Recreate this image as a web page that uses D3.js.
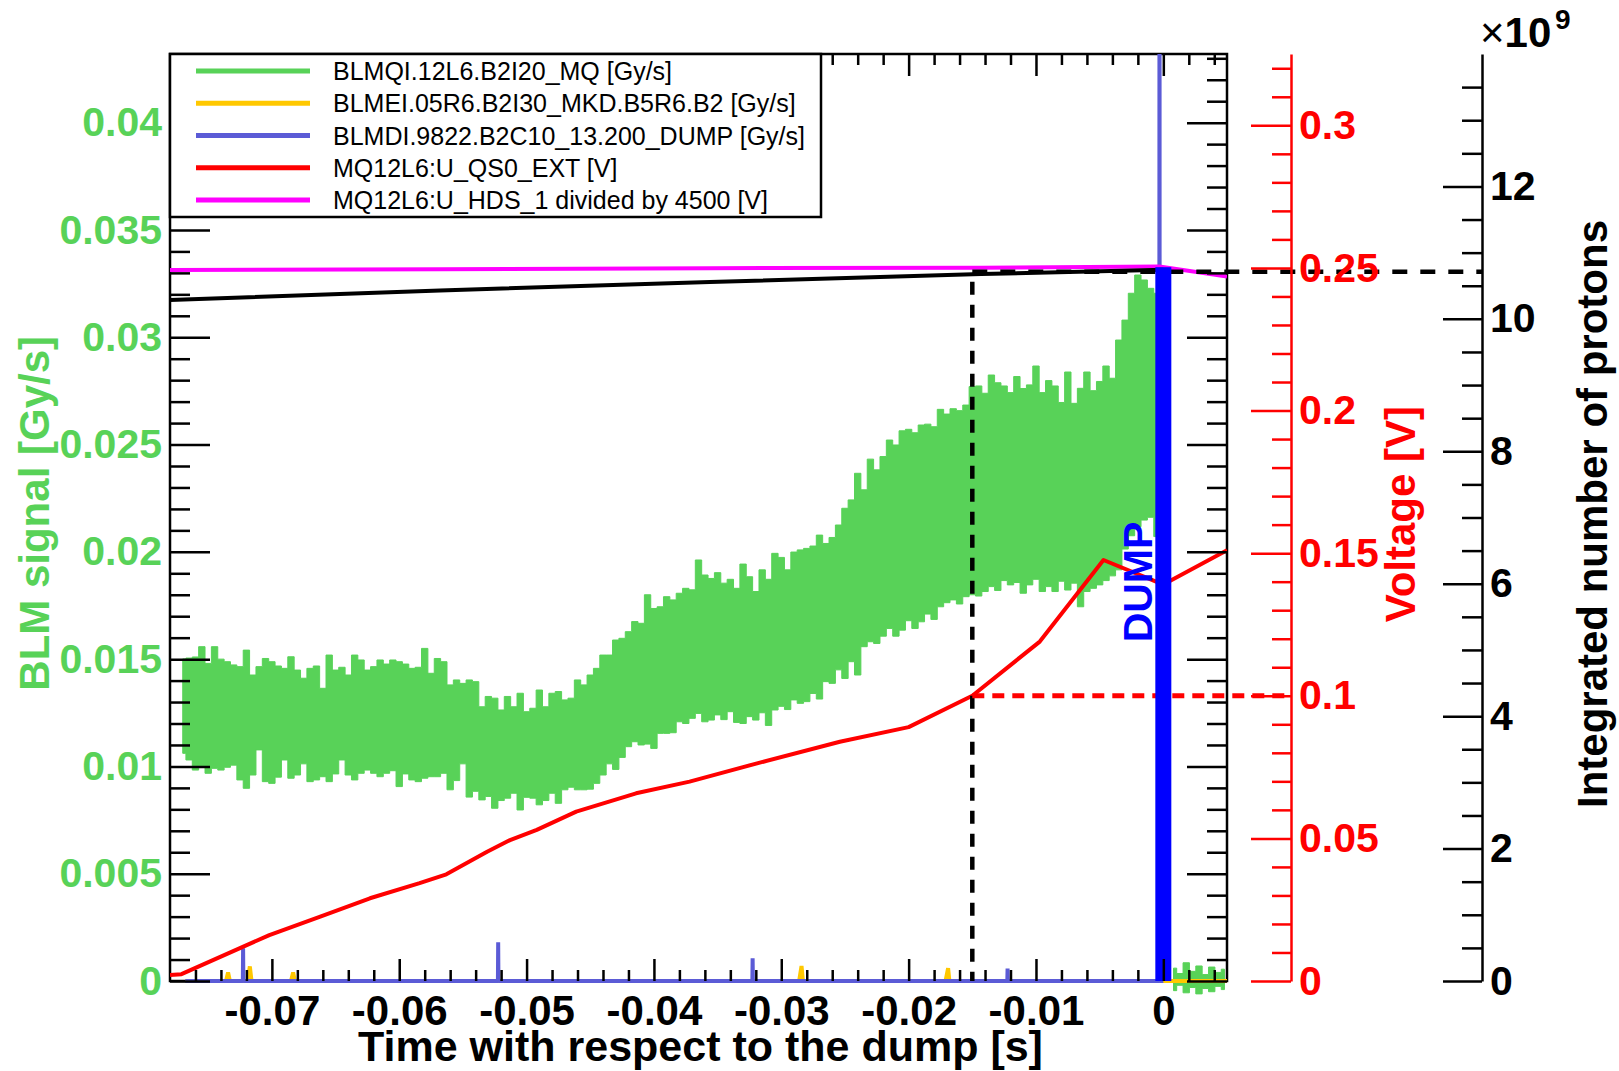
<!DOCTYPE html>
<html>
<head>
<meta charset="utf-8">
<script src="https://cdn.jsdelivr.net/npm/d3@7"></script>
<style>
  html, body { margin: 0; padding: 0; background: #ffffff; }
  svg { display: block; }
</style>
</head>
<body>
<svg id="chart" width="1619" height="1071"></svg>
<script>
// ---------------------------------------------------------------------------
// Data
// ---------------------------------------------------------------------------

// BLMQI.12L6.B2I20_MQ [Gy/s]: min / max envelope of the loss signal,
// sampled every 0.5 ms from t = -77 ms up to the dump.
const blmMqStart = -0.0770;
const blmMqStep = 0.0005;
const blmMqUpper = [
  0.01501, 0.01505, 0.01510, 0.01558, 0.01480, 0.01558, 0.01500, 0.01488, 0.01473, 0.01465,
  0.01542, 0.01426, 0.01465, 0.01503, 0.01488, 0.01468, 0.01457, 0.01511, 0.01449, 0.01411,
  0.01457, 0.01468, 0.01364, 0.01519, 0.01449, 0.01462, 0.01426, 0.01519, 0.01496, 0.01449,
  0.01465, 0.01496, 0.01477, 0.01496, 0.01488, 0.01477, 0.01457, 0.01462, 0.01550, 0.01434,
  0.01503, 0.01488, 0.01380, 0.01403, 0.01387, 0.01403, 0.01395, 0.01278, 0.01326, 0.01318,
  0.01263, 0.01326, 0.01278, 0.01341, 0.01255, 0.01271, 0.01356, 0.01278, 0.01341, 0.01349,
  0.01310, 0.01318, 0.01403, 0.01380, 0.01426, 0.01457, 0.01519, 0.01519, 0.01589, 0.01597,
  0.01628, 0.01675, 0.01667, 0.01800, 0.01736, 0.01744, 0.01791, 0.01776, 0.01807, 0.01830,
  0.01823, 0.01962, 0.01892, 0.01876, 0.01903, 0.01854, 0.01872, 0.01830, 0.01943, 0.01884,
  0.01815, 0.01916, 0.01872, 0.01993, 0.01974, 0.01916, 0.01999, 0.02009, 0.02016, 0.02027,
  0.02078, 0.02039, 0.02067, 0.02125, 0.02203, 0.02242, 0.02366, 0.02289, 0.02432, 0.02382,
  0.02444, 0.02521, 0.02498, 0.02564, 0.02571, 0.02555, 0.02591, 0.02595, 0.02583, 0.02664,
  0.02642, 0.02667, 0.02658, 0.02684, 0.02770, 0.02773, 0.02739, 0.02824, 0.02788, 0.02773,
  0.02742, 0.02817, 0.02761, 0.02778, 0.02866, 0.02742, 0.02798, 0.02773, 0.02696, 0.02838,
  0.02692, 0.02762, 0.02838, 0.02751, 0.02794, 0.02866, 0.02809, 0.02987, 0.03080, 0.03205,
  0.03290, 0.03267, 0.03228, 0.03205
];
const blmMqLower = [
  0.01061, 0.01030, 0.00983, 0.00999, 0.00968, 0.00991, 0.00983, 0.00996, 0.01006, 0.00937,
  0.00898, 0.00960, 0.01077, 0.00929, 0.00921, 0.00950, 0.01030, 0.00945, 0.00960, 0.01012,
  0.00929, 0.00937, 0.00952, 0.00929, 0.00965, 0.01030, 0.00960, 0.00937, 0.00968, 0.00983,
  0.00968, 0.00952, 0.00968, 0.00980, 0.00906, 0.00965, 0.00937, 0.00929, 0.00945, 0.00952,
  0.00952, 0.00968, 0.00891, 0.00934, 0.01012, 0.00857, 0.00884, 0.00844, 0.00860, 0.00805,
  0.00841, 0.00852, 0.00875, 0.00797, 0.00856, 0.00852, 0.00821, 0.00841, 0.00875, 0.00828,
  0.00891, 0.00903, 0.00891, 0.00891, 0.00894, 0.00921, 0.00960, 0.01012, 0.00986, 0.01042,
  0.01092, 0.01115, 0.01100, 0.01104, 0.01084, 0.01154, 0.01154, 0.01157, 0.01208, 0.01200,
  0.01224, 0.01247, 0.01208, 0.01216, 0.01240, 0.01218, 0.01255, 0.01205, 0.01200, 0.01232,
  0.01216, 0.01250, 0.01191, 0.01263, 0.01280, 0.01265, 0.01310, 0.01294, 0.01302, 0.01340,
  0.01314, 0.01395, 0.01387, 0.01450, 0.01410, 0.01488, 0.01426, 0.01558, 0.01581, 0.01573,
  0.01607, 0.01643, 0.01607, 0.01635, 0.01679, 0.01643, 0.01674, 0.01710, 0.01685, 0.01744,
  0.01763, 0.01776, 0.01757, 0.01791, 0.01800, 0.01794, 0.01815, 0.01838, 0.01820, 0.01866,
  0.01846, 0.01857, 0.01807, 0.01846, 0.01872, 0.01815, 0.01838, 0.01815, 0.01863, 0.01822,
  0.01854, 0.01744, 0.01815, 0.01830, 0.01846, 0.01866, 0.01888, 0.01916, 0.02013, 0.02075,
  0.02117, 0.02148, 0.02161, 0.02071
];

// Same monitor after the dump: noise around zero.
const blmMqPostStart = 0.0008;
const blmMqPostUpper = [0.00060, 0.00035, 0.00085, 0.00045, 0.00070, 0.00030, 0.00065, 0.00040, 0.00055];
const blmMqPostLower = [-0.00045, -0.00020, -0.00055, -0.00030, -0.00060, -0.00035, -0.00050, -0.00025, -0.00040];

// BLMEI.05R6.B2I30_MKD.B5R6.B2 [Gy/s]
const blmMkdTime  = [-0.0768, -0.0736, -0.07344, -0.0733, -0.0719, -0.07173, -0.0716, -0.0685, -0.06833, -0.0682,
                     -0.0286, -0.02841, -0.0283, -0.0171, -0.0169, -0.0168, 0.0050];
const blmMkdValue = [0, 0, 0.00040, 0, 0, 0.00068, 0, 0, 0.00040, 0,
                     0, 0.00070, 0, 0, 0.00060, 0, 0];

// BLMDI.9822.B2C10_13.200_DUMP [Gy/s]
const blmDumpTime  = [-0.0768, -0.07228, -0.07226, -0.07224, -0.05225, -0.05223, -0.05221,
                      -0.03227, -0.03225, -0.03223, -0.01225, -0.01223, -0.01221,
                      -0.00032, -0.00030, -0.00028, 0.0];
const blmDumpValue = [0, 0, 0.00152, 0, 0, 0.00180, 0,
                      0, 0.00106, 0, 0, 0.00058, 0,
                      0, 0.06, 0, 0];

// MQ12L6:U_QS0_EXT [V]
const qs0Time  = [-0.0780, -0.0771, -0.0702, -0.0662, -0.0623, -0.0584, -0.0563, -0.0531, -0.0513, -0.0492,
                  -0.0461, -0.0414, -0.0372, -0.0319, -0.0254, -0.0200, -0.0150, -0.0097, -0.0047, 0.0000, 0.0050];
const qs0Volt  = [0.0021, 0.0024, 0.0161, 0.0226, 0.0290, 0.0343, 0.0374, 0.0453, 0.0494, 0.0530,
                  0.0594, 0.0658, 0.0699, 0.0763, 0.0839, 0.0890, 0.1000, 0.1190, 0.1476, 0.1390, 0.1510];

// MQ12L6:U_HDS_1 divided by 4500 [V]
const hdsTime = [-0.0780, -0.0568, -0.0356, -0.0143, -0.0003, 0.0050];
const hdsVolt = [0.2493, 0.2495, 0.2499, 0.2501, 0.2505, 0.2470];

// Integrated number of protons [x 1e9]
const protonTime  = [-0.0780, -0.0568, -0.0356, -0.0143, 0.0000];
const protonCount = [10.285, 10.430, 10.557, 10.678, 10.740];

// Reference markers
const markerTime = -0.015;        // s, when U_QS0_EXT reaches the threshold
const markerVoltage = 0.1;        // V
const protonsAtDump = 10.71;      // x 1e9, dashed level
const dumpTime = 0.0;             // s
const dumpBarTop = 10.78;         // x 1e9

// Tick values and labels
const xTickValues = [-0.07, -0.06, -0.05, -0.04, -0.03, -0.02, -0.01, 0];
const xTickLabels = ["-0.07", "-0.06", "-0.05", "-0.04", "-0.03", "-0.02", "-0.01", "0"];
const blmTickValues = [0, 0.005, 0.01, 0.015, 0.02, 0.025, 0.03, 0.035, 0.04];
const blmTickLabels = ["0", "0.005", "0.01", "0.015", "0.02", "0.025", "0.03", "0.035", "0.04"];
const voltTickValues = [0, 0.05, 0.1, 0.15, 0.2, 0.25, 0.3];
const voltTickLabels = ["0", "0.05", "0.1", "0.15", "0.2", "0.25", "0.3"];
const protonTickValues = [0, 2, 4, 6, 8, 10, 12];
const protonTickLabels = ["0", "2", "4", "6", "8", "10", "12"];

const legendLabels = [
  "BLMQI.12L6.B2I20_MQ [Gy/s]",
  "BLMEI.05R6.B2I30_MKD.B5R6.B2 [Gy/s]",
  "BLMDI.9822.B2C10_13.200_DUMP [Gy/s]",
  "MQ12L6:U_QS0_EXT [V]",
  "MQ12L6:U_HDS_1 divided by 4500 [V]"
];

// ---------------------------------------------------------------------------
// Layout and styles
// ---------------------------------------------------------------------------
const FONT = '"Liberation Sans", Arial, Helvetica, sans-serif';
const GREEN = '#58d258';
const ORANGE = '#ffc800';
const DUMP_MON_BLUE = '#5b5bd6';
const RED = '#ff0000';
const MAGENTA = '#ff00ff';
const DUMP_BLUE = '#0000ff';
const legendColors = [GREEN, ORANGE, DUMP_MON_BLUE, RED, MAGENTA];

const frame = { left: 170, right: 1227, top: 54, bottom: 981 };
const voltAxisX = 1291;
const protonAxisX = 1482;
const LW = 2.5;

const svg = d3.select('#chart');

const x = d3.scaleLinear().domain([-0.078, 0.005]).range([frame.left, frame.right]);
const yBlm = d3.scaleLinear().domain([0, 0.0432]).range([frame.bottom, frame.top]);
const yVolt = d3.scaleLinear().domain([0, 0.325]).range([frame.bottom, frame.top]);
const yProt = d3.scaleLinear().domain([0, 14]).range([frame.bottom, frame.top]);

function minorTicks(lo, hi, step, majorStep) {
  const out = [];
  const n = Math.round((hi - lo) / step);
  for (let i = 0; i <= n; i++) {
    const v = +(lo + i * step).toFixed(6);
    const r = v / majorStep;
    if (Math.abs(r - Math.round(r)) > 1e-6) out.push(v);
  }
  return out;
}

function styleAxis(g, color, fontSize, keepDomain) {
  g.attr('color', color);
  if (keepDomain) g.selectAll('.domain').attr('stroke-width', LW);
  else g.selectAll('.domain').remove();
  g.selectAll('.tick line').attr('stroke-width', LW);
  g.selectAll('.tick text')
    .attr('font-family', FONT)
    .attr('font-weight', 'bold')
    .attr('font-size', fontSize || 41);
  return g;
}

// ---------------------------------------------------------------------------
// Frame border (drawn first so the curves lie on top of it)
// ---------------------------------------------------------------------------
svg.append('rect')
  .attr('x', frame.left).attr('y', frame.top)
  .attr('width', frame.right - frame.left).attr('height', frame.bottom - frame.top)
  .attr('fill', 'none').attr('stroke', '#000').attr('stroke-width', LW);

// ---------------------------------------------------------------------------
// Data layer (clipped to the frame, open a little below the time axis)
// ---------------------------------------------------------------------------
svg.append('defs').append('clipPath').attr('id', 'plotClip')
  .append('rect')
  .attr('x', frame.left).attr('y', frame.top)
  .attr('width', frame.right - frame.left)
  .attr('height', frame.bottom - frame.top + 30);

const plot = svg.append('g').attr('clip-path', 'url(#plotClip)');

// BLMQI envelope band
const band = d3.area()
  .x(d => x(d.t))
  .y0(d => yBlm(d.lo))
  .y1(d => yBlm(d.hi))
  .curve(d3.curveStep);

const mqBand = blmMqUpper.map((hi, i) => ({ t: blmMqStart + i * blmMqStep, hi, lo: blmMqLower[i] }));
const mqPost = blmMqPostUpper.map((hi, i) => ({ t: blmMqPostStart + i * blmMqStep, hi, lo: blmMqPostLower[i] }));

plot.append('path').datum(mqBand).attr('d', band).attr('fill', GREEN).attr('stroke', GREEN).attr('stroke-width', 1);
plot.append('path').datum(mqPost).attr('d', band).attr('fill', GREEN).attr('stroke', GREEN).attr('stroke-width', 1);

// BLMEI (MKD)
const blmLine = d3.line().x(d => x(d[0])).y(d => yBlm(d[1]));
plot.append('path')
  .datum(blmMkdTime.map((t, i) => [t, blmMkdValue[i]]))
  .attr('d', blmLine)
  .attr('fill', 'none').attr('stroke', ORANGE).attr('stroke-width', 4)
  .attr('stroke-linejoin', 'bevel');

// BLMDI (dump line)
plot.append('path')
  .datum(blmDumpTime.map((t, i) => [t, blmDumpValue[i]]))
  .attr('d', blmLine)
  .attr('fill', 'none').attr('stroke', DUMP_MON_BLUE).attr('stroke-width', 4)
  .attr('stroke-linejoin', 'bevel');

// U_QS0_EXT
const voltLine = d3.line().x(d => x(d[0])).y(d => yVolt(d[1]));
plot.append('path')
  .datum(qs0Time.map((t, i) => [t, qs0Volt[i]]))
  .attr('d', voltLine)
  .attr('fill', 'none').attr('stroke', RED).attr('stroke-width', 4)
  .attr('stroke-linejoin', 'round');

// U_HDS_1 / 4500
plot.append('path')
  .datum(hdsTime.map((t, i) => [t, hdsVolt[i]]))
  .attr('d', voltLine)
  .attr('fill', 'none').attr('stroke', MAGENTA).attr('stroke-width', 4);

// Integrated number of protons
plot.append('path')
  .datum(protonTime.map((t, i) => [t, protonCount[i]]))
  .attr('d', d3.line().x(d => x(d[0])).y(d => yProt(d[1])))
  .attr('fill', 'none').attr('stroke', '#000').attr('stroke-width', 4);

// Threshold markers
svg.append('line')
  .attr('x1', x(markerTime)).attr('x2', x(markerTime))
  .attr('y1', yProt(protonsAtDump)).attr('y2', frame.bottom)
  .attr('stroke', '#000').attr('stroke-width', 4.5).attr('stroke-dasharray', '13 10')
  .attr('stroke-dashoffset', -10);
svg.append('line')
  .attr('x1', x(markerTime)).attr('x2', protonAxisX)
  .attr('y1', yProt(protonsAtDump)).attr('y2', yProt(protonsAtDump))
  .attr('stroke', '#000').attr('stroke-width', 4.5).attr('stroke-dasharray', '15 13');
svg.append('line')
  .attr('x1', x(markerTime)).attr('x2', voltAxisX)
  .attr('y1', yVolt(markerVoltage)).attr('y2', yVolt(markerVoltage))
  .attr('stroke', RED).attr('stroke-width', 5).attr('stroke-dasharray', '12 8');

// Dump marker bar
svg.append('rect')
  .attr('x', x(dumpTime) - 8).attr('width', 16)
  .attr('y', yProt(dumpBarTop)).attr('height', frame.bottom - yProt(dumpBarTop))
  .attr('fill', DUMP_BLUE);

svg.append('text')
  .attr('transform', `translate(${x(dumpTime) - 11},582) rotate(-90)`)
  .attr('text-anchor', 'middle')
  .attr('font-family', FONT).attr('font-weight', 'bold').attr('font-size', 41)
  .attr('fill', DUMP_BLUE)
  .text('DUMP');

// ---------------------------------------------------------------------------
// Tick marks and axes
// ---------------------------------------------------------------------------
const xMinor = minorTicks(-0.076, 0.004, 0.002, 0.01);
const blmMinor = minorTicks(0, 0.043, 0.001, 0.005);
const voltMinor = minorTicks(0, 0.32, 0.01, 0.05);
const protMinor = minorTicks(0, 13.5, 0.5, 2);

// Bottom time axis
styleAxis(svg.append('g').attr('transform', `translate(0,${frame.bottom})`)
  .call(d3.axisBottom(x).tickValues(xTickValues).tickFormat((d, i) => xTickLabels[i])
    .tickSizeInner(-22).tickSizeOuter(0).tickPadding(14)), '#000', 42);
styleAxis(svg.append('g').attr('transform', `translate(0,${frame.bottom})`)
  .call(d3.axisBottom(x).tickValues(xMinor).tickFormat('').tickSizeInner(-11).tickSizeOuter(0)), '#000');

// Top frame ticks
styleAxis(svg.append('g').attr('transform', `translate(0,${frame.top})`)
  .call(d3.axisTop(x).tickValues(xTickValues).tickFormat('').tickSizeInner(-22).tickSizeOuter(0)), '#000');
styleAxis(svg.append('g').attr('transform', `translate(0,${frame.top})`)
  .call(d3.axisTop(x).tickValues(xMinor).tickFormat('').tickSizeInner(-11).tickSizeOuter(0)), '#000');

// Left BLM axis (labels in green, ticks in black)
const leftMajor = svg.append('g').attr('transform', `translate(${frame.left},0)`)
  .call(d3.axisLeft(yBlm).tickValues(blmTickValues).tickFormat((d, i) => blmTickLabels[i])
    .tickSizeInner(-40).tickSizeOuter(0).tickPadding(8));
styleAxis(leftMajor, '#000');
leftMajor.selectAll('.tick text').attr('fill', GREEN);
styleAxis(svg.append('g').attr('transform', `translate(${frame.left},0)`)
  .call(d3.axisLeft(yBlm).tickValues(blmMinor).tickFormat('').tickSizeInner(-20).tickSizeOuter(0)), '#000');

// Right frame ticks
styleAxis(svg.append('g').attr('transform', `translate(${frame.right},0)`)
  .call(d3.axisRight(yBlm).tickValues(blmTickValues).tickFormat('').tickSizeInner(-40).tickSizeOuter(0)), '#000');
styleAxis(svg.append('g').attr('transform', `translate(${frame.right},0)`)
  .call(d3.axisRight(yBlm).tickValues(blmMinor).tickFormat('').tickSizeInner(-20).tickSizeOuter(0)), '#000');

// Voltage axis
styleAxis(svg.append('g').attr('transform', `translate(${voltAxisX},0)`)
  .call(d3.axisRight(yVolt).tickValues(voltTickValues).tickFormat((d, i) => voltTickLabels[i])
    .tickSizeInner(-40).tickSizeOuter(0).tickPadding(8)), RED, 41, true);
styleAxis(svg.append('g').attr('transform', `translate(${voltAxisX},0)`)
  .call(d3.axisRight(yVolt).tickValues(voltMinor).tickFormat('').tickSizeInner(-19).tickSizeOuter(0)), RED);

// Proton axis
styleAxis(svg.append('g').attr('transform', `translate(${protonAxisX},0)`)
  .call(d3.axisRight(yProt).tickValues(protonTickValues).tickFormat((d, i) => protonTickLabels[i])
    .tickSizeInner(-39).tickSizeOuter(0).tickPadding(8)), '#000', 41, true);
styleAxis(svg.append('g').attr('transform', `translate(${protonAxisX},0)`)
  .call(d3.axisRight(yProt).tickValues(protMinor).tickFormat('').tickSizeInner(-20).tickSizeOuter(0)), '#000');

// Exponent of the proton axis
const expo = svg.append('text')
  .attr('x', protonAxisX - 2).attr('y', 47)
  .attr('font-family', FONT).attr('font-size', 42).attr('fill', '#000');
expo.append('tspan').text('\u00d7');
expo.append('tspan').attr('font-weight', 'bold').text('10');
svg.append('text')
  .attr('x', 1555).attr('y', 29)
  .attr('font-family', FONT).attr('font-weight', 'bold').attr('font-size', 28).attr('fill', '#000')
  .text('9');

// ---------------------------------------------------------------------------
// Titles
// ---------------------------------------------------------------------------
function title(txt, xPos, yPos, color, rotate, anchor, size) {
  svg.append('text')
    .attr('transform', `translate(${xPos},${yPos})` + (rotate ? ' rotate(-90)' : ''))
    .attr('text-anchor', anchor)
    .attr('font-family', FONT).attr('font-weight', 'bold').attr('font-size', size || 42)
    .attr('fill', color)
    .text(txt);
}
title('Time with respect to the dump [s]', (frame.left + frame.right) / 2 + 2, 1061, '#000', false, 'middle', 43);
title('BLM signal [Gy/s]', 49, 336, GREEN, true, 'end');
title('Voltage [V]', 1415, 406, RED, true, 'end');
title('Integrated number of protons', 1607, 220, '#000', true, 'end');

// ---------------------------------------------------------------------------
// Legend
// ---------------------------------------------------------------------------
const legend = svg.append('g');
legend.append('rect')
  .attr('x', frame.left).attr('y', frame.top)
  .attr('width', 651).attr('height', 163)
  .attr('fill', '#fff').attr('stroke', '#000').attr('stroke-width', LW);

legendLabels.forEach((label, i) => {
  const cy = 71 + i * 32.25;
  legend.append('line')
    .attr('x1', 196).attr('x2', 310).attr('y1', cy).attr('y2', cy)
    .attr('stroke', legendColors[i]).attr('stroke-width', 5);
  legend.append('text')
    .attr('x', 333).attr('y', cy + 9)
    .attr('font-family', FONT).attr('font-size', 25).attr('fill', '#000')
    .text(label);
});
</script>
</body>
</html>
